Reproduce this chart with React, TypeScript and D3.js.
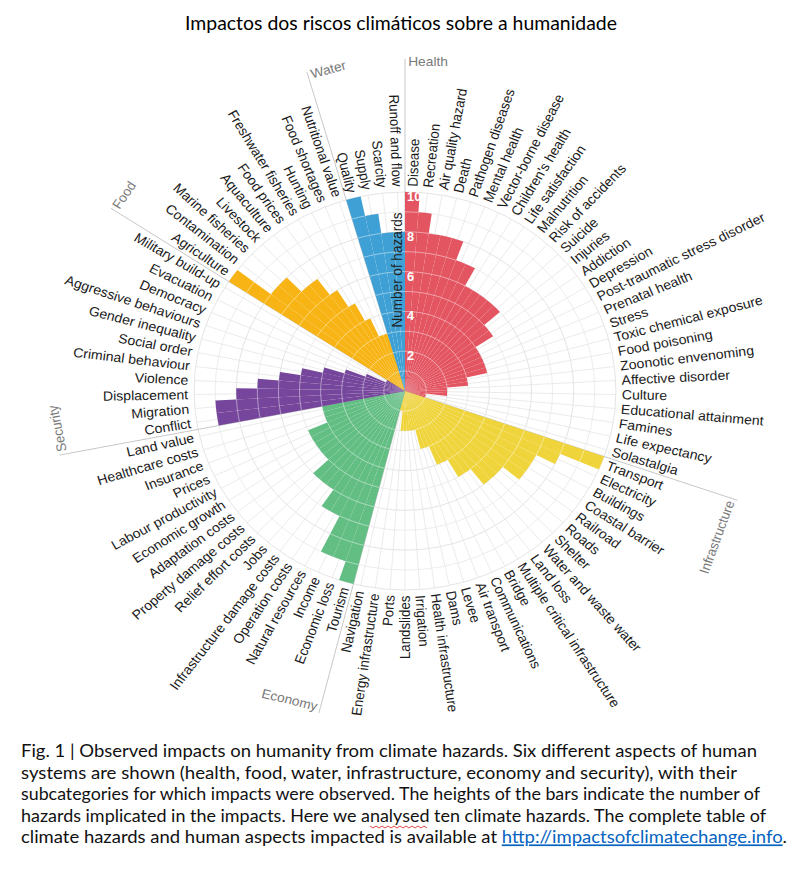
import React from "react";
import * as d3 from "d3";

const healthCats = ["Disease","Recreation","Air quality hazard","Death","Pathogen diseases","Mental health","Vector-borne disease","Children's health","Life satisfaction","Malnutrition","Risk of accidents","Suicide","Injuries","Addiction","Depression","Post-traumatic stress disorder","Prenatal health","Stress","Toxic chemical exposure","Food poisoning","Zoonotic envenoming","Affective disorder","Culture","Educational attainment","Famines","Life expectancy","Solastalgia"];
const healthVals = [10,9,8,8,8,7,7,6,6,6,6,6,5,5,4,4,4,4,4,3,3,2,2,2,1,1,1];

const infraCats = ["Transport","Electricity","Buildings","Coastal barrier","Railroad","Roads","Shelter","Water and waste water","Land loss","Multiple critical infrastructure","Bridge","Communications","Air transport","Levee","Dams","Health infrastructure","Irrigation","Landslides","Ports","Energy infrastructure","Navigation"];
const infraVals = [10,8,7,7,7,6,6,6,5,5,4,4,3,3,2,2,2,2,2,1,1];

const economyCats = ["Tourism","Economic loss","Income","Natural resources","Operation costs","Infrastructure damage costs","Jobs","Relief effort costs","Property damage costs","Adaptation costs","Economic growth","Labour productivity","Prices","Insurance","Healthcare costs","Land value"];
const economyVals = [10,9,9,7,7,6,6,6,5,5,5,5,5,4,4,4];

const securityCats = ["Conflict","Migration","Displacement","Violence","Criminal behaviour","Social order","Gender inequality","Aggressive behaviours","Democracy","Evacuation","Military build-up"];
const securityVals = [9,9,8,7,6,5,4,3,2,1,1];

const foodCats = ["Agriculture","Contamination","Marine fisheries","Livestock","Aquaculture","Food prices","Freshwater fisheries","Hunting","Food shortages","Nutritional value"];
const foodVals = [10,8,8,7,7,6,5,4,3,3];

const waterCats = ["Quality","Supply","Scarcity","Runoff and flow"];
const waterVals = [10,9,8,8];

const groupNames = ["Health","Infrastructure","Economy","Security","Food","Water"];
const groupColors = ["#E45562","#F0D43C","#63BE84","#75469B","#F7B414","#3EA0D4"];
const groupCats = [healthCats, infraCats, economyCats, securityCats, foodCats, waterCats];
const groupVals = [healthVals, infraVals, economyVals, securityVals, foodVals, waterVals];

const yTicks = [2,4,6,8,10];

const title = "Impactos dos riscos climáticos sobre a humanidade";
const captionLines = [
  "Fig. 1 | Observed impacts on humanity from climate hazards. Six different aspects of human",
  "systems are shown (health, food, water, infrastructure, economy and security), with their",
  "subcategories for which impacts were observed. The heights of the bars indicate the number of",
  "hazards implicated in the impacts. Here we analysed ten climate hazards. The complete table of",
];
const captionLast = "climate hazards and human aspects impacted is available at ";
const captionLink = "http://impactsofclimatechange.info";
const captionEnds = [757, 737, 760, 766, 787];

export default function App() {
  const W = 800, H = 869;
  const cx = 405, cy = 391, sx = 1.06;
  const r = d3.scaleLinear().domain([0, 10]).range([0, 199]);

  const items: { cat: string; val: number; color: string }[] = [];
  const groupStart: number[] = [];
  groupCats.forEach((cats, gi) => {
    groupStart.push(items.length);
    cats.forEach((c, i) => items.push({ cat: c, val: groupVals[gi][i], color: groupColors[gi] }));
  });
  const n = items.length;
  const x = d3.scaleBand<number>().domain(d3.range(n)).range([0, 2 * Math.PI]).padding(0);
  const bw = x.bandwidth();
  const arc = d3.arc<any>();
  const deg = (a: number) => (a * 180) / Math.PI;

  const gridCircles = d3.range(1, 11);
  const labelR = r(10.28);
  const catLineR = r(16.7);
  const sans = "'Liberation Sans', Arial, sans-serif";

  return (
    <svg width={W} height={H} style={{ position: "absolute", left: 0, top: 0, background: "#fff" }}>
      <text x={401} y={30} textAnchor="middle" fontFamily="Lato, 'Open Sans', sans-serif" fontSize={20}
        textLength={432} lengthAdjust="spacingAndGlyphs" fill="#000">{title}</text>

      <g transform={`translate(${cx},${cy}) scale(${sx},1)`}>
        {gridCircles.map((k) => (
          <circle key={"c" + k} r={r(k)} fill="none" stroke={k % 2 === 0 ? "#dedede" : "#e9e9e9"} strokeWidth={0.8} />
        ))}
        {items.map((d, i) => {
          const a = (x(i) as number) + bw / 2;
          return (
            <line key={"rl" + i} x1={0} y1={0} x2={r(10) * Math.sin(a)} y2={-r(10) * Math.cos(a)}
              stroke="#e6e6e6" strokeWidth={0.8} />
          );
        })}
        {groupStart.map((s, gi) => {
          const a = x(s) as number;
          return (
            <line key={"gl" + gi} x1={0} y1={0} x2={catLineR * Math.sin(a)} y2={-catLineR * Math.cos(a)}
              stroke="#c4c4c4" strokeWidth={0.9} />
          );
        })}
        {items.map((d, i) => {
          const a0 = x(i) as number;
          return (
            <path key={"b" + i} d={arc({ innerRadius: 0, outerRadius: r(d.val), startAngle: a0, endAngle: a0 + bw }) || ""}
              fill={d.color} />
          );
        })}
        {items.map((d, i) => {
          const a0 = x(i) as number;
          return d3.range(1, d.val).map((k) => {
            const p = d3.path();
            p.arc(0, 0, r(k), a0 - Math.PI / 2, a0 + bw - Math.PI / 2);
            return <path key={"w" + i + "_" + k} d={p.toString()} fill="none" stroke="#fff" strokeOpacity={0.55} strokeWidth={0.8} />;
          });
        })}
        <text transform={`translate(-3,-121) rotate(-90)`} textAnchor="middle"
          fontFamily={sans} fontSize={13.5} fill="#222">Number of hazards</text>
        {yTicks.map((t) => (
          <text key={"t" + t} x={2} y={-r(t) + 9} fontFamily={sans} fontSize={12}
            fontWeight={700} fill="#fff">{t}</text>
        ))}
        {items.map((d, i) => {
          const a = deg((x(i) as number) + bw / 2);
          const right = a < 180;
          const tr = right ? `rotate(${a - 90}) translate(${labelR},0)` : `rotate(${a + 90}) translate(${-labelR},0)`;
          return (
            <text key={"l" + i} transform={tr} textAnchor={right ? "start" : "end"} dy="0.35em"
              fontFamily={sans} fontSize={13.3} fill="#1a1a1a">{d.cat}</text>
          );
        })}
        {groupStart.map((s, gi) => {
          const aRad = x(s) as number;
          const a = deg(aRad);
          const px = catLineR * Math.sin(aRad), py = -catLineR * Math.cos(aRad);
          const flip = a > 90 && a < 250;
          const rot = flip ? a - 180 : a;
          return (
            <text key={"g" + gi} transform={`translate(${px},${py}) rotate(${rot})`} x={flip ? -3 : 3}
              dy={flip ? "-0.15em" : "0.6em"} textAnchor={flip ? "end" : "start"}
              fontFamily={sans} fontSize={13} fill="#7a7a7a">{groupNames[gi]}</text>
          );
        })}
      </g>

      {captionLines.map((l, i) => (
        <text key={"cap" + i} x={21} y={757 + i * 21.6} fontFamily="Lato, 'Open Sans', sans-serif" fontSize={17}
          textLength={captionEnds[i] - 21} lengthAdjust="spacingAndGlyphs" fill="#111">{l}</text>
      ))}
      <text x={21} y={757 + 4 * 21.6} fontFamily="Lato, 'Open Sans', sans-serif" fontSize={17}
        textLength={captionEnds[4] - 21} lengthAdjust="spacingAndGlyphs" fill="#111">
        {captionLast}
        <tspan fill="#0563C1" style={{ textDecoration: "underline" }}>{captionLink}</tspan>
        .
      </text>
      <path d={d3.range(0, 20).map((k) => `${k === 0 ? "M" : "L"}${370 + k * 3},${826 + (k % 2 === 0 ? 0 : 2)}`).join(" ")}
        fill="none" stroke="#e03030" strokeWidth={0.9} />
    </svg>
  );
}
